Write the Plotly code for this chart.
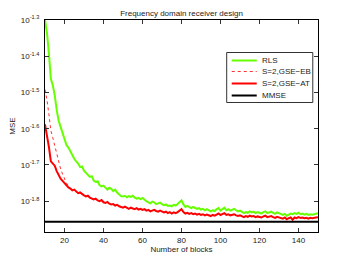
import plotly.graph_objects as go

# Number of blocks
blocks = list(range(10, 151))

# log10(MSE) values, one per block (10..150)
rls_log = [
    -1.300, -1.335, -1.392, -1.462, -1.480, -1.508, -1.548, -1.578, -1.595, -1.614,
    -1.628, -1.645, -1.652, -1.664, -1.672, -1.683, -1.690, -1.696, -1.706, -1.704,
    -1.716, -1.722, -1.725, -1.733, -1.731, -1.743, -1.747, -1.745, -1.756, -1.759,
    -1.757, -1.764, -1.768, -1.763, -1.766, -1.772, -1.768, -1.776, -1.782, -1.786,
    -1.787, -1.785, -1.789, -1.786, -1.788, -1.785, -1.790, -1.793, -1.791, -1.794,
    -1.791, -1.796, -1.800, -1.803, -1.806, -1.801, -1.803, -1.808, -1.805, -1.804,
    -1.808, -1.811, -1.809, -1.813, -1.812, -1.814, -1.810, -1.812, -1.808, -1.803,
    -1.798, -1.809, -1.816, -1.813, -1.817, -1.819, -1.816, -1.818, -1.821, -1.819,
    -1.823, -1.821, -1.825, -1.822, -1.826, -1.828, -1.825, -1.827, -1.822, -1.819,
    -1.826, -1.823, -1.818, -1.825, -1.822, -1.826, -1.823, -1.821, -1.825, -1.828,
    -1.826, -1.830, -1.833, -1.830, -1.832, -1.828, -1.831, -1.829, -1.833, -1.830,
    -1.832, -1.834, -1.830, -1.828, -1.833, -1.831, -1.829, -1.832, -1.835, -1.831,
    -1.834, -1.836, -1.838, -1.835, -1.840, -1.837, -1.834, -1.836, -1.833, -1.835,
    -1.832, -1.836, -1.834, -1.837, -1.835, -1.838, -1.836, -1.837, -1.835, -1.834,
    -1.833,
]

gse_at_log = [
    -1.588, -1.615, -1.650, -1.690, -1.697, -1.702, -1.717, -1.728, -1.738, -1.744,
    -1.751, -1.756, -1.762, -1.765, -1.770, -1.768, -1.774, -1.778, -1.776, -1.781,
    -1.784, -1.787, -1.785, -1.790, -1.792, -1.795, -1.793, -1.798, -1.800, -1.797,
    -1.803, -1.805, -1.802, -1.807, -1.809, -1.808, -1.812, -1.810, -1.814, -1.816,
    -1.818, -1.815, -1.819, -1.821, -1.818, -1.820, -1.822, -1.819, -1.823, -1.821,
    -1.824, -1.822, -1.826, -1.824, -1.828, -1.826, -1.824, -1.827, -1.829, -1.826,
    -1.828, -1.831, -1.829, -1.833, -1.830, -1.834, -1.831, -1.833, -1.830, -1.826,
    -1.822, -1.830, -1.834, -1.832, -1.835, -1.833, -1.836, -1.834, -1.837, -1.835,
    -1.838, -1.836, -1.839, -1.837, -1.840, -1.841, -1.838, -1.840, -1.837, -1.834,
    -1.838, -1.836, -1.833, -1.838, -1.836, -1.839, -1.837, -1.836, -1.839, -1.841,
    -1.839, -1.842, -1.844, -1.841, -1.843, -1.840, -1.842, -1.841, -1.844, -1.842,
    -1.843, -1.845, -1.842, -1.840, -1.844, -1.842, -1.841, -1.844, -1.846, -1.843,
    -1.845, -1.847, -1.848, -1.845, -1.850, -1.847, -1.845, -1.851, -1.845, -1.847,
    -1.844, -1.846, -1.845, -1.847, -1.846, -1.848, -1.846, -1.847, -1.845, -1.845,
    -1.844,
]

# GSE-EB (dotted) visible before it merges with GSE-AT, blocks 10..30
gse_eb_blocks = list(range(10, 31))
gse_eb_log = [
    -1.492, -1.520, -1.560, -1.605, -1.625, -1.647, -1.670, -1.692, -1.711, -1.725,
    -1.738, -1.750, -1.758, -1.764, -1.769, -1.770, -1.775, -1.778, -1.777, -1.781,
    -1.784,
]

mmse_log = -1.857

ytick_exps = [-1.8, -1.7, -1.6, -1.5, -1.4, -1.3]
ytick_labels = ["10<sup>-1.8</sup>", "10<sup>-1.7</sup>", "10<sup>-1.6</sup>",
                "10<sup>-1.5</sup>", "10<sup>-1.4</sup>", "10<sup>-1.3</sup>"]
xtick_vals = [20, 40, 60, 80, 100, 120, 140]

series_names = ["RLS", "S=2,GSE\u2212EB", "S=2,GSE\u2212AT", "MMSE"]
series_colors = ["#66ff00", "#ff3030", "#ff0000", "#000000"]
series_dash = ["solid", "dot", "solid", "solid"]
series_width = [2, 1, 2, 2]

FONT = "Liberation Sans, Arial, Helvetica, sans-serif"
TXT = "#222222"

fig = go.Figure()
xs = [blocks, gse_eb_blocks, blocks, [blocks[0], blocks[-1]]]
ys = [[10 ** v for v in rls_log], [10 ** v for v in gse_eb_log],
      [10 ** v for v in gse_at_log], [10 ** mmse_log, 10 ** mmse_log]]
for i in range(4):
    fig.add_trace(go.Scatter(
        x=xs[i], y=ys[i], mode="lines", name=series_names[i], showlegend=False,
        line=dict(color=series_colors[i], width=series_width[i], dash=series_dash[i])))

# The page body has an 8px margin; lay the figure out so the plot lands
# where it is in the 350x262 reference.
OFF = 8
W, H = 350 - OFF, 262 - OFF
PL, PR, PT, PB = 45, 317.7, 20, 232     # plot box in reference pixels
ML, MT = PL - OFF, PT - OFF
MR, MB = W - (PR - OFF), H - (PB - OFF)

def px(x):
    return (x - PL) / (PR - PL)

def py(y):
    return (PB - y) / (PB - PT)

# Compact MATLAB-style legend (paper coordinates)
shapes = [dict(type="rect", xref="paper", yref="paper",
               x0=px(226.5), x1=px(312.5), y0=py(102.5), y1=py(52.5),
               line=dict(color="#333333", width=1), fillcolor="white", layer="above")]
annotations = []
entry_y = [60.5, 71.5, 83.5, 95.5]
for i in range(4):
    shapes.append(dict(type="line", xref="paper", yref="paper",
                       x0=px(231.5), x1=px(256.5), y0=py(entry_y[i]), y1=py(entry_y[i]),
                       line=dict(color=series_colors[i], width=series_width[i],
                                 dash=series_dash[i]), layer="above"))
    annotations.append(dict(xref="paper", yref="paper", x=px(259.5), y=py(entry_y[i]),
                            text=series_names[i], showarrow=False, xanchor="left",
                            yanchor="middle", font=dict(family=FONT, size=8, color=TXT)))

axis_common = dict(
    showline=True, linecolor="#000000", linewidth=1, mirror="allticks",
    ticks="inside", ticklen=4, tickcolor="#333333", showgrid=False, zeroline=False,
    automargin=False, tickfont=dict(family=FONT, size=8, color=TXT),
)

fig.update_layout(
    width=W, height=H,
    margin=dict(l=ML, r=MR, t=MT, b=MB, autoexpand=False),
    paper_bgcolor="white", plot_bgcolor="white",
    font=dict(family=FONT, size=8, color=TXT),
    title=dict(text="Frequency domain receiver design", x=(181.5 - OFF) / W,
               xanchor="center", y=1 - (13.5 - OFF) / H, yanchor="middle",
               yref="container", font=dict(family=FONT, size=8, color=TXT)),
    xaxis=dict(range=[10, 150], tickvals=xtick_vals,
               title=dict(text="Number of blocks", standoff=2,
                          font=dict(family=FONT, size=8, color=TXT)),
               **axis_common),
    yaxis=dict(type="log", range=[-1.885, -1.3],
               tickvals=[10 ** e for e in ytick_exps], ticktext=ytick_labels,
               ticklabelstandoff=3,
               title=dict(text="MSE", standoff=4,
                          font=dict(family=FONT, size=8, color=TXT)),
               **axis_common),
    shapes=shapes,
    annotations=annotations,
    showlegend=False,
)

fig.write_html("out.html")
